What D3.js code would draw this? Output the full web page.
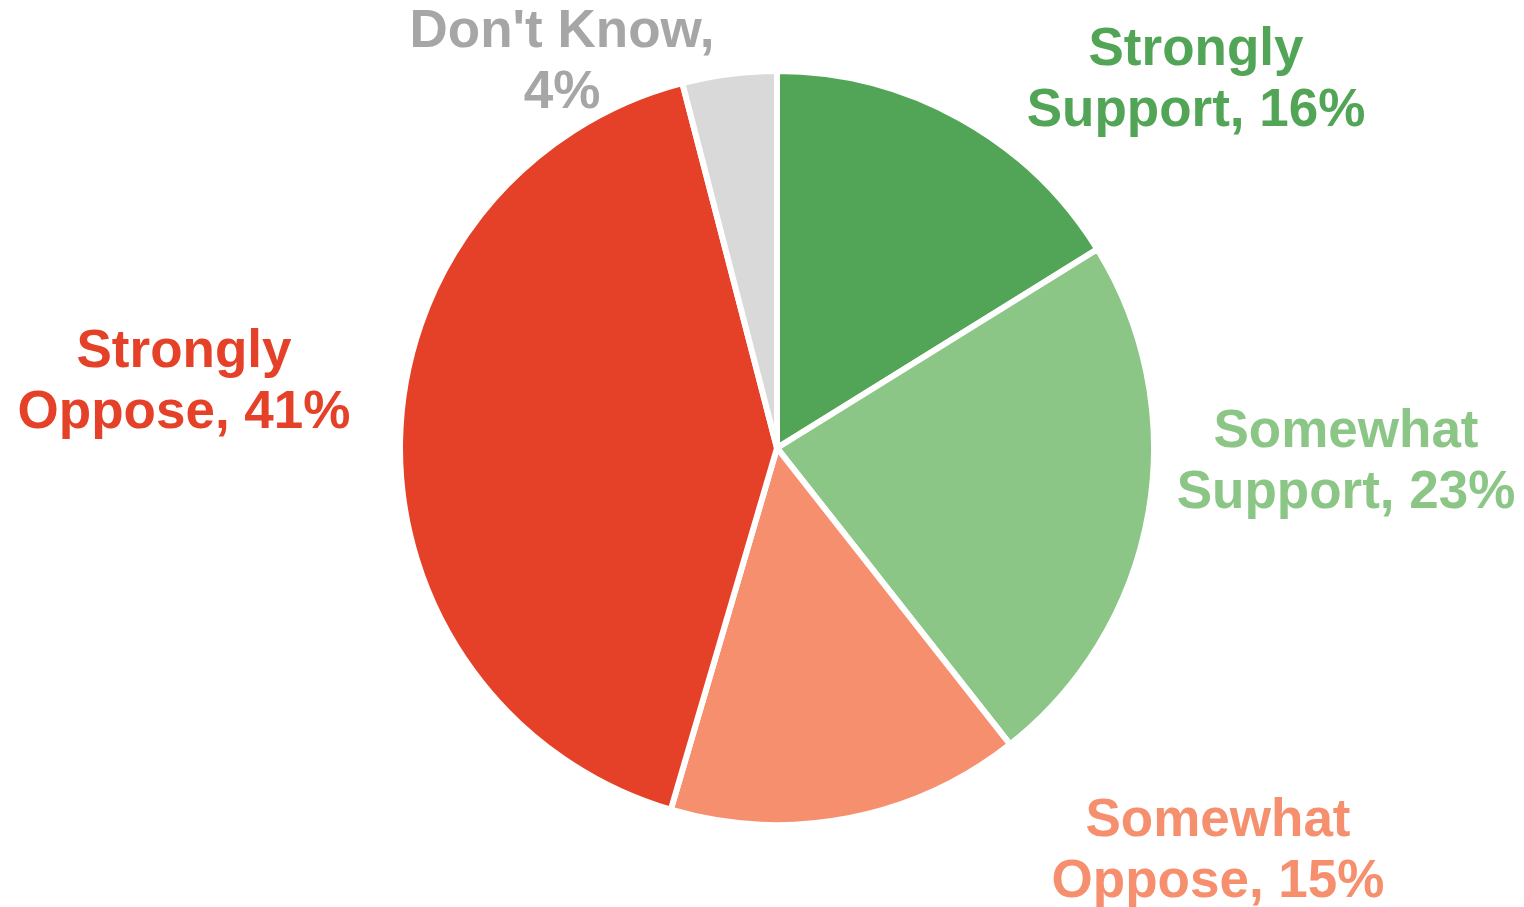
<!DOCTYPE html>
<html>
<head>
<meta charset="utf-8">
<script src="https://cdn.jsdelivr.net/npm/d3@7/dist/d3.min.js"></script>
<style>
  html, body { margin: 0; padding: 0; background: #ffffff; }
  svg { display: block; }
</style>
</head>
<body>
<svg id="chart" width="1524" height="907"></svg>
<script>
// Survey responses, in drawing order (clockwise from 12 o'clock)
const categories = ["Strongly Support", "Somewhat Support", "Somewhat Oppose", "Strongly Oppose", "Don't Know"];
const values = [16, 23, 15, 41, 4];
const labelLines = [
  ["Strongly", "Support, 16%"],
  ["Somewhat", "Support, 23%"],
  ["Somewhat", "Oppose, 15%"],
  ["Strongly", "Oppose, 41%"],
  ["Don't Know,", "4%"]
];
const sliceColors = ["#52a557", "#8cc687", "#f58f6d", "#e54028", "#d9d9d9"];
const labelColors = ["#52a557", "#8cc687", "#f58f6d", "#e54028", "#a6a6a6"];

// Layout
const cx = 777, cy = 448, radius = 377;
const fontSize = 53, lineGap = 61;
// label anchor: centre x and first-line baseline
const labelAnchors = {
  "Strongly Support": [1196, 65],
  "Somewhat Support": [1346, 447],
  "Somewhat Oppose": [1218, 836],
  "Strongly Oppose": [184, 367],
  "Don't Know": [562, 47]
};

const svg = d3.select("#chart");
const data = categories.map((c, i) => ({ name: c, value: values[i], i }));

const pie = d3.pie().value(d => d.value).sort(null);
const arc = d3.arc().innerRadius(0).outerRadius(radius);

const g = svg.append("g").attr("transform", `translate(${cx},${cy})`);
g.selectAll("path")
  .data(pie(data))
  .join("path")
  .attr("d", arc)
  .attr("fill", d => sliceColors[d.data.i])
  .attr("stroke", "#ffffff")
  .attr("stroke-width", 6)
  .attr("stroke-linejoin", "miter");

const labels = svg.append("g")
  .attr("font-family", "Liberation Sans, Arial, sans-serif")
  .attr("font-weight", "bold")
  .attr("font-size", fontSize)
  .attr("text-anchor", "middle");

data.forEach(d => {
  const [x, y] = labelAnchors[d.name];
  const t = labels.append("text")
    .attr("x", x)
    .attr("y", y)
    .attr("fill", labelColors[d.i]);
  labelLines[d.i].forEach((line, k) => {
    t.append("tspan")
      .attr("x", x)
      .attr("y", y + k * lineGap)
      .text(line);
  });
});
</script>
</body>
</html>
